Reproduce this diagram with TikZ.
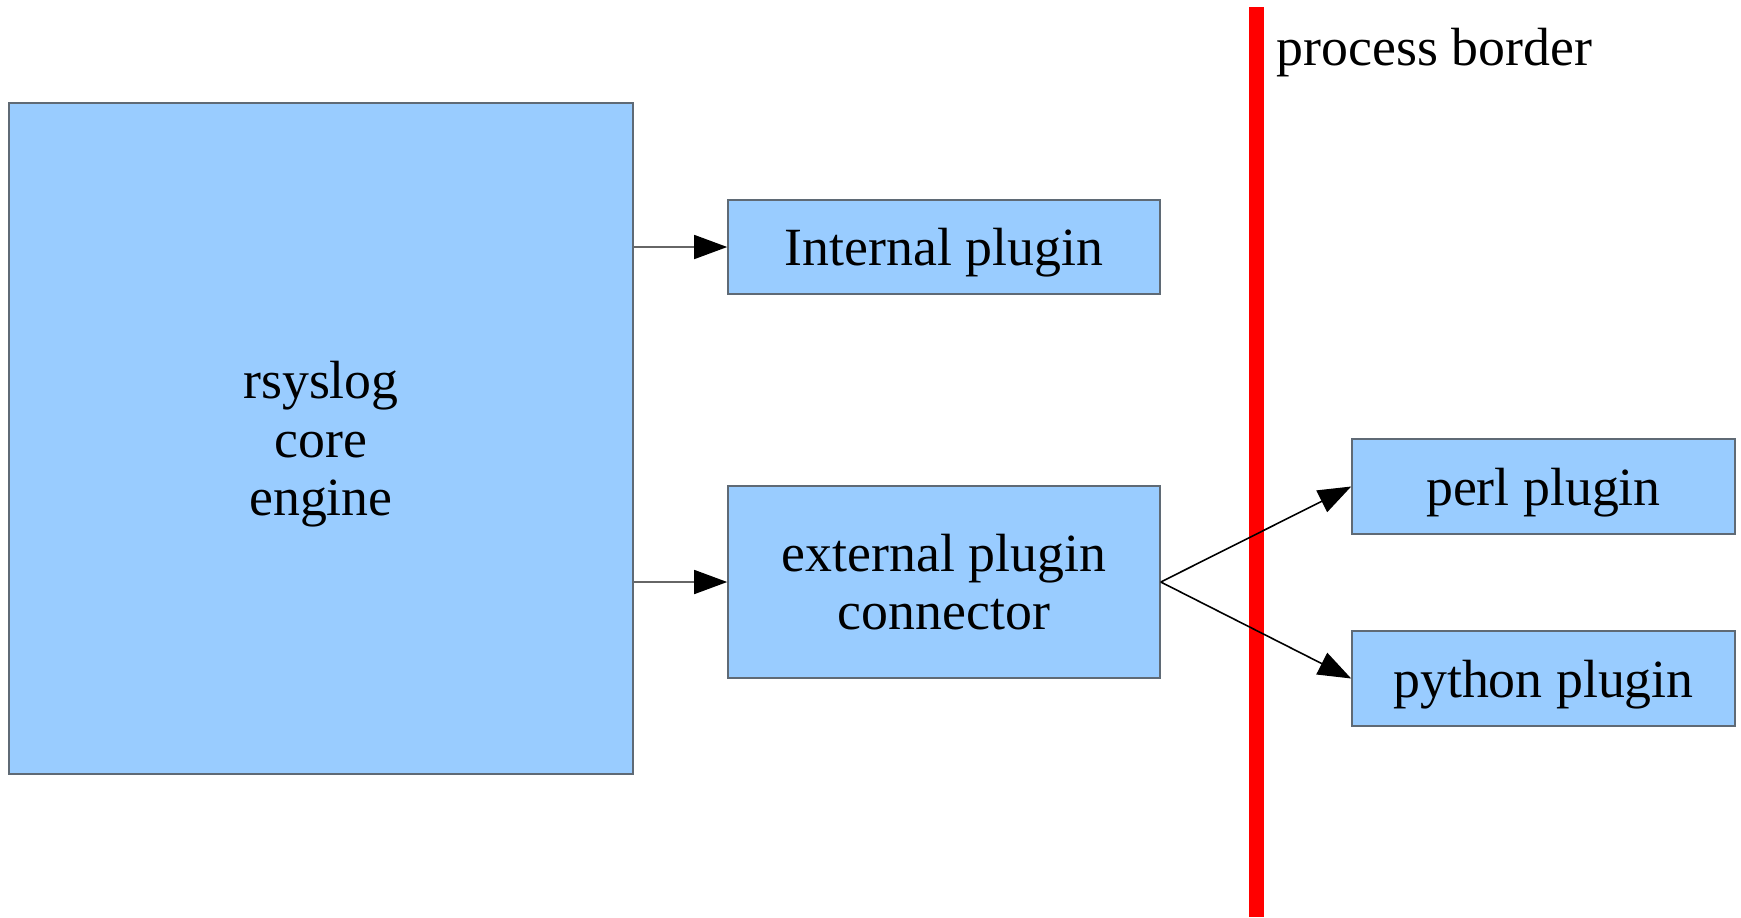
\documentclass[tikz,border=0pt]{standalone}
\usepackage{fontspec}
\setmainfont{Liberation Serif}
\usetikzlibrary{arrows.meta}
\definecolor{boxblue}{HTML}{99CCFF}
\definecolor{boxline}{HTML}{5F6A75}
\definecolor{lineGray}{HTML}{666666}
\begin{document}
\begin{tikzpicture}[
    x=0.01cm, y=-0.01cm,
    plugin box/.style={draw=boxline, fill=boxblue, line width=0.45pt, inner sep=0pt,
        minimum width=#1*0.01cm, align=center, text depth=0pt,
        font=\fontsize{15.3}{16.6}\selectfont},
    link/.style={-{Triangle[length=0.33cm, width=0.24cm, color=black]}, line width=0.45pt}
]
\useasboundingbox (0,0) rectangle (1741,917);
% Plugin boxes
\node [plugin box=624, minimum height=6.71cm] (core) at (321,438.5) {rsyslog\\core\\engine};
\node [plugin box=432, minimum height=0.94cm] (internal) at (944,247) {Internal plugin};
\node [plugin box=432, minimum height=1.92cm] (external) at (944,582) {external plugin\\connector};
\node [plugin box=383, minimum height=0.95cm] (perl) at (1543.5,486.5) {perl plugin};
\node [plugin box=383, minimum height=0.95cm] (python) at (1543.5,678.5) {python plugin};

% process border
\draw [red, line width=0.15cm] (1256,7) -- (1256,917);
\node [anchor=base west, inner sep=0pt, font=\fontsize{15.3}{16.6}\selectfont] (border) at (1276,65) {process border};

\draw [link, lineGray] (core.east |- internal) -- (internal.west);
\draw [link, lineGray] (core.east |- external) -- (external.west);
\draw [link] (external.east) -- (perl.west);
\draw [link] (external.east) -- (python.west);

\end{tikzpicture}
\end{document}
